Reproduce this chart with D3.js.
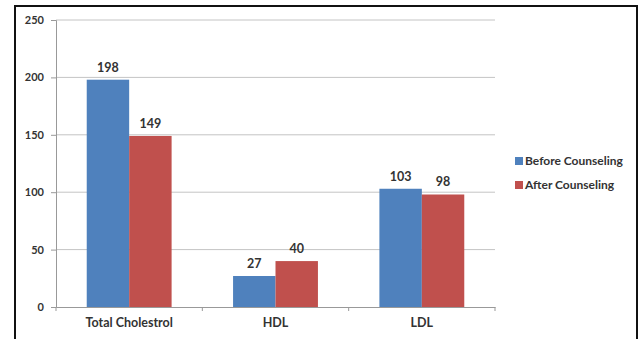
<!DOCTYPE html>
<html>
<head>
<meta charset="utf-8">
<script src="https://cdn.jsdelivr.net/npm/d3@7"></script>
<style>
  html, body { margin: 0; padding: 0; background: #fff; }
  svg text { font-family: Lato, "Open Sans", sans-serif; font-weight: bold; fill: #333; }
</style>
</head>
<body>
<svg id="chart" width="643" height="339"></svg>
<script>
// Lipid profile before and after counseling
const categories = ["Total Cholestrol", "HDL", "LDL"];
const seriesNames = ["Before Counseling", "After Counseling"];
const beforeValues = [198, 27, 103];
const afterValues = [149, 40, 98];
const yTicks = [0, 50, 100, 150, 200, 250];
const colors = ["#4F81BD", "#C0504D"];

const svg = d3.select("#chart");

// outer frame
svg.append("rect")
  .attr("x", 15).attr("y", 6).attr("width", 622).attr("height", 345)
  .attr("fill", "#fff").attr("stroke", "#111").attr("stroke-width", 2);

const plot = { left: 56, right: 495, top: 20, bottom: 307 };

const x = d3.scaleBand().domain(categories)
  .range([plot.left, plot.right]).paddingInner(0.42).paddingOuter(0.21);
const xs = d3.scaleBand().domain(seriesNames).range([0, x.bandwidth()]);
const y = d3.scaleLinear().domain([0, 250]).range([plot.bottom, plot.top]);

// gridlines
svg.append("g").selectAll("line").data(yTicks.filter(t => t > 0)).join("line")
  .attr("x1", plot.left).attr("x2", plot.right)
  .attr("y1", d => y(d)).attr("y2", d => y(d))
  .attr("stroke", "#c4c4c4").attr("stroke-width", 1);

// y axis
const yAxis = svg.append("g").attr("transform", `translate(${plot.left},0)`)
  .call(d3.axisLeft(y).tickValues(yTicks).tickSize(5).tickPadding(7));
yAxis.select(".domain").attr("stroke", "#999");
yAxis.selectAll(".tick line").attr("stroke", "#999");
yAxis.selectAll("text").style("font-size", "11px").attr("fill", "#333");

// bars
const data = categories.map((c, i) => ({ cat: c, vals: [beforeValues[i], afterValues[i]] }));
const groups = svg.append("g").selectAll("g").data(data).join("g")
  .attr("transform", d => `translate(${x(d.cat)},0)`);

groups.selectAll("rect").data(d => d.vals.map((v, j) => ({ v, s: seriesNames[j], j }))).join("rect")
  .attr("x", d => xs(d.s)).attr("width", xs.bandwidth())
  .attr("y", d => y(d.v)).attr("height", d => y(0) - y(d.v))
  .attr("fill", d => colors[d.j]);

groups.selectAll("text.val").data(d => d.vals.map((v, j) => ({ v, s: seriesNames[j] }))).join("text")
  .attr("class", "val")
  .attr("x", d => xs(d.s) + xs.bandwidth() / 2)
  .attr("y", d => y(d.v) - 8)
  .attr("text-anchor", "middle")
  .style("font-size", "12.5px")
  .text(d => d.v);

// x axis
const xAxis = svg.append("g").attr("transform", `translate(0,${plot.bottom})`)
  .call(d3.axisBottom(x).tickSize(0).tickPadding(11));
xAxis.select(".domain").attr("stroke", "#999");
xAxis.selectAll("text").style("font-size", "12.5px").attr("fill", "#333");
// category separator ticks
const bounds = [plot.left, ...categories.slice(1).map(c => x(c) - x.step() * x.paddingInner() / 2), plot.right];
xAxis.selectAll("line.sep").data(bounds).join("line").attr("class", "sep")
  .attr("x1", d => d).attr("x2", d => d).attr("y1", 0).attr("y2", 4)
  .attr("stroke", "#999");

// legend
const legend = svg.append("g").attr("transform", "translate(515,161)");
const items = legend.selectAll("g").data(seriesNames).join("g")
  .attr("transform", (d, i) => `translate(0,${i * 24})`);
items.append("rect").attr("x", 0).attr("y", -4).attr("width", 8).attr("height", 8)
  .attr("fill", (d, i) => colors[i]);
items.append("text").attr("x", 10).attr("y", 0).attr("dy", "0.35em")
  .style("font-size", "12px").text(d => d);
</script>
</body>
</html>
